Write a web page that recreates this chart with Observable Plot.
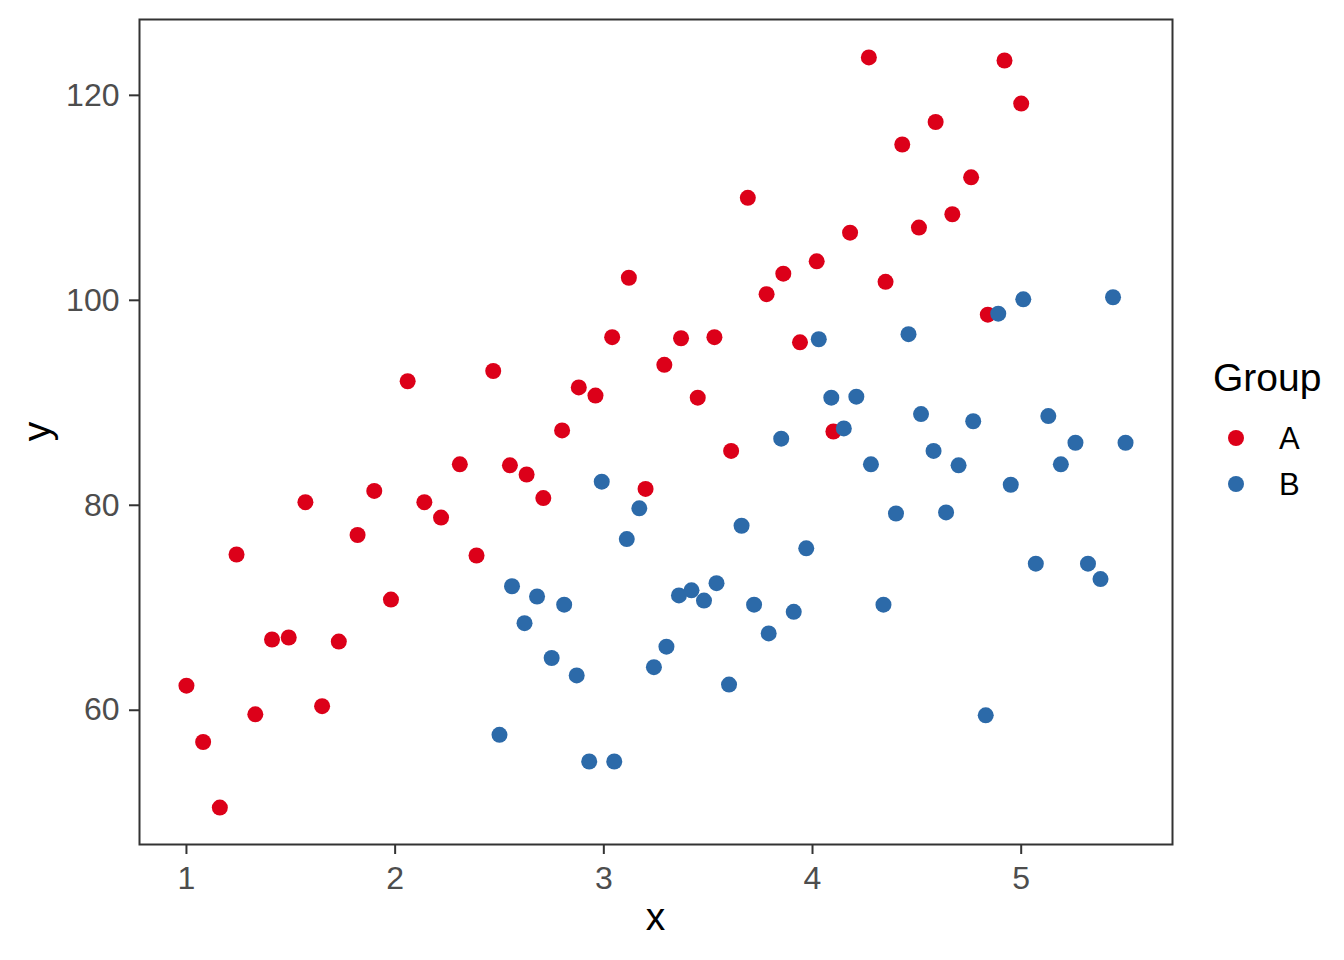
<!DOCTYPE html>
<html>
<head>
<meta charset="utf-8">
<script src="https://cdn.jsdelivr.net/npm/d3@7"></script>
<script src="https://cdn.jsdelivr.net/npm/@observablehq/plot@0.6"></script>
<style>
  html, body { margin: 0; padding: 0; background: #ffffff; }
  #chart { width: 1344px; height: 960px; }
</style>
</head>
<body>
<div id="chart"></div>
<script>
// ---- data ----
const groups = ["A", "B"];
const groupColors = ["#DC0019", "#2C6AA9"];

const xA = [1.00, 1.08, 1.16, 1.24, 1.33, 1.41, 1.49, 1.57, 1.65, 1.73,
            1.82, 1.90, 1.98, 2.06, 2.14, 2.22, 2.31, 2.39, 2.47, 2.55,
            2.63, 2.71, 2.80, 2.88, 2.96, 3.04, 3.12, 3.20, 3.29, 3.37,
            3.45, 3.53, 3.61, 3.69, 3.78, 3.86, 3.94, 4.02, 4.10, 4.18,
            4.27, 4.35, 4.43, 4.51, 4.59, 4.67, 4.76, 4.84, 4.92, 5.00];
const yA = [62.4, 56.9, 50.5, 75.2, 59.6, 66.9, 67.1, 80.3, 60.4, 66.7,
            77.1, 81.4, 70.8, 92.1, 80.3, 78.8, 84.0, 75.1, 93.1, 83.9,
            83.0, 80.7, 87.3, 91.5, 90.7, 96.4, 102.2, 81.6, 93.7, 96.3,
            90.5, 96.4, 85.3, 110.0, 100.6, 102.6, 95.9, 103.8, 87.2, 106.6,
            123.7, 101.8, 115.2, 107.1, 117.4, 108.4, 112.0, 98.6, 123.4, 119.2];

const xB = [2.50, 2.56, 2.62, 2.68, 2.75, 2.81, 2.87, 2.93, 2.99, 3.05,
            3.11, 3.17, 3.24, 3.30, 3.36, 3.42, 3.48, 3.54, 3.60, 3.66,
            3.72, 3.79, 3.85, 3.91, 3.97, 4.03, 4.09, 4.15, 4.21, 4.28,
            4.34, 4.40, 4.46, 4.52, 4.58, 4.64, 4.70, 4.77, 4.83, 4.89,
            4.95, 5.01, 5.07, 5.13, 5.19, 5.26, 5.32, 5.38, 5.44, 5.50];
const yB = [57.6, 72.1, 68.5, 71.1, 65.1, 70.3, 63.4, 55.0, 82.3, 55.0,
            76.7, 79.7, 64.2, 66.2, 71.2, 71.7, 70.7, 72.4, 62.5, 78.0,
            70.3, 67.5, 86.5, 69.6, 75.8, 96.2, 90.5, 87.5, 90.6, 84.0,
            70.3, 79.2, 96.7, 88.9, 85.3, 79.3, 83.9, 88.2, 59.5, 98.7,
            82.0, 100.1, 74.3, 88.7, 84.0, 86.1, 74.3, 72.8, 100.3, 86.1];

const xTicks = [1, 2, 3, 4, 5];
const yTicks = [60, 80, 100, 120];
const xTitle = "x";
const yTitle = "y";
const legendTitle = "Group";

// ---- table for the library ----
const data = [
  ...xA.map((x, i) => ({x, y: yA[i], group: groups[0]})),
  ...xB.map((x, i) => ({x, y: yB[i], group: groups[1]}))
];

const font = '"Liberation Sans", Arial, Helvetica, sans-serif';

const chart = Plot.plot({
  width: 1344,
  height: 960,
  marginLeft: 139,
  marginRight: 172,
  marginTop: 19,
  marginBottom: 116,
  style: {fontFamily: font, background: "#ffffff", overflow: "visible"},
  x: {domain: [0.775, 5.725]},
  y: {domain: [46.9, 127.4]},
  color: {domain: groups, range: groupColors},
  marks: [
    Plot.dot(data, {x: "x", y: "y", fill: "group", r: 8, stroke: "none"}),
    Plot.frame({stroke: "#333333", strokeWidth: 2}),
    Plot.axisX({ticks: xTicks, tickFormat: d3.format("d"), tickSize: 10, tickPadding: 12, fontSize: 32,
                fill: "#4D4D4D", stroke: "#333333", strokeWidth: 2, label: null}),
    Plot.axisY({ticks: yTicks, tickFormat: d3.format("d"), tickSize: 10, tickPadding: 10, fontSize: 32,
                fill: "#4D4D4D", stroke: "#333333", strokeWidth: 2, label: null})
  ]
});

document.getElementById("chart").appendChild(chart);

// ---- axis titles and legend (real text) ----
const svg = d3.select(chart);
const color = chart.scale("color");

svg.append("text")
  .attr("x", (139 + 1172) / 2)
  .attr("y", 930)
  .attr("text-anchor", "middle")
  .attr("font-family", font)
  .attr("font-size", 39)
  .attr("fill", "#000")
  .text(xTitle);

svg.append("text")
  .attr("transform", "translate(50," + (19 + 844) / 2 + ") rotate(-90)")
  .attr("text-anchor", "middle")
  .attr("font-family", font)
  .attr("font-size", 39)
  .attr("fill", "#000")
  .text(yTitle);

const legend = svg.append("g").attr("text-anchor", "start");
legend.append("text")
  .attr("x", 1213)
  .attr("y", 391)
  .attr("text-anchor", "start")
  .attr("font-family", font)
  .attr("font-size", 39)
  .attr("fill", "#000")
  .text(legendTitle);

groups.forEach((g, i) => {
  const cy = 438 + i * 46;
  legend.append("circle")
    .attr("cx", 1236)
    .attr("cy", cy)
    .attr("r", 8)
    .attr("fill", color.apply(g));
  legend.append("text")
    .attr("x", 1279)
    .attr("y", cy + 11)
    .attr("text-anchor", "start")
    .attr("font-family", font)
    .attr("font-size", 31)
    .attr("fill", "#000")
    .text(g);
});
</script>
</body>
</html>
